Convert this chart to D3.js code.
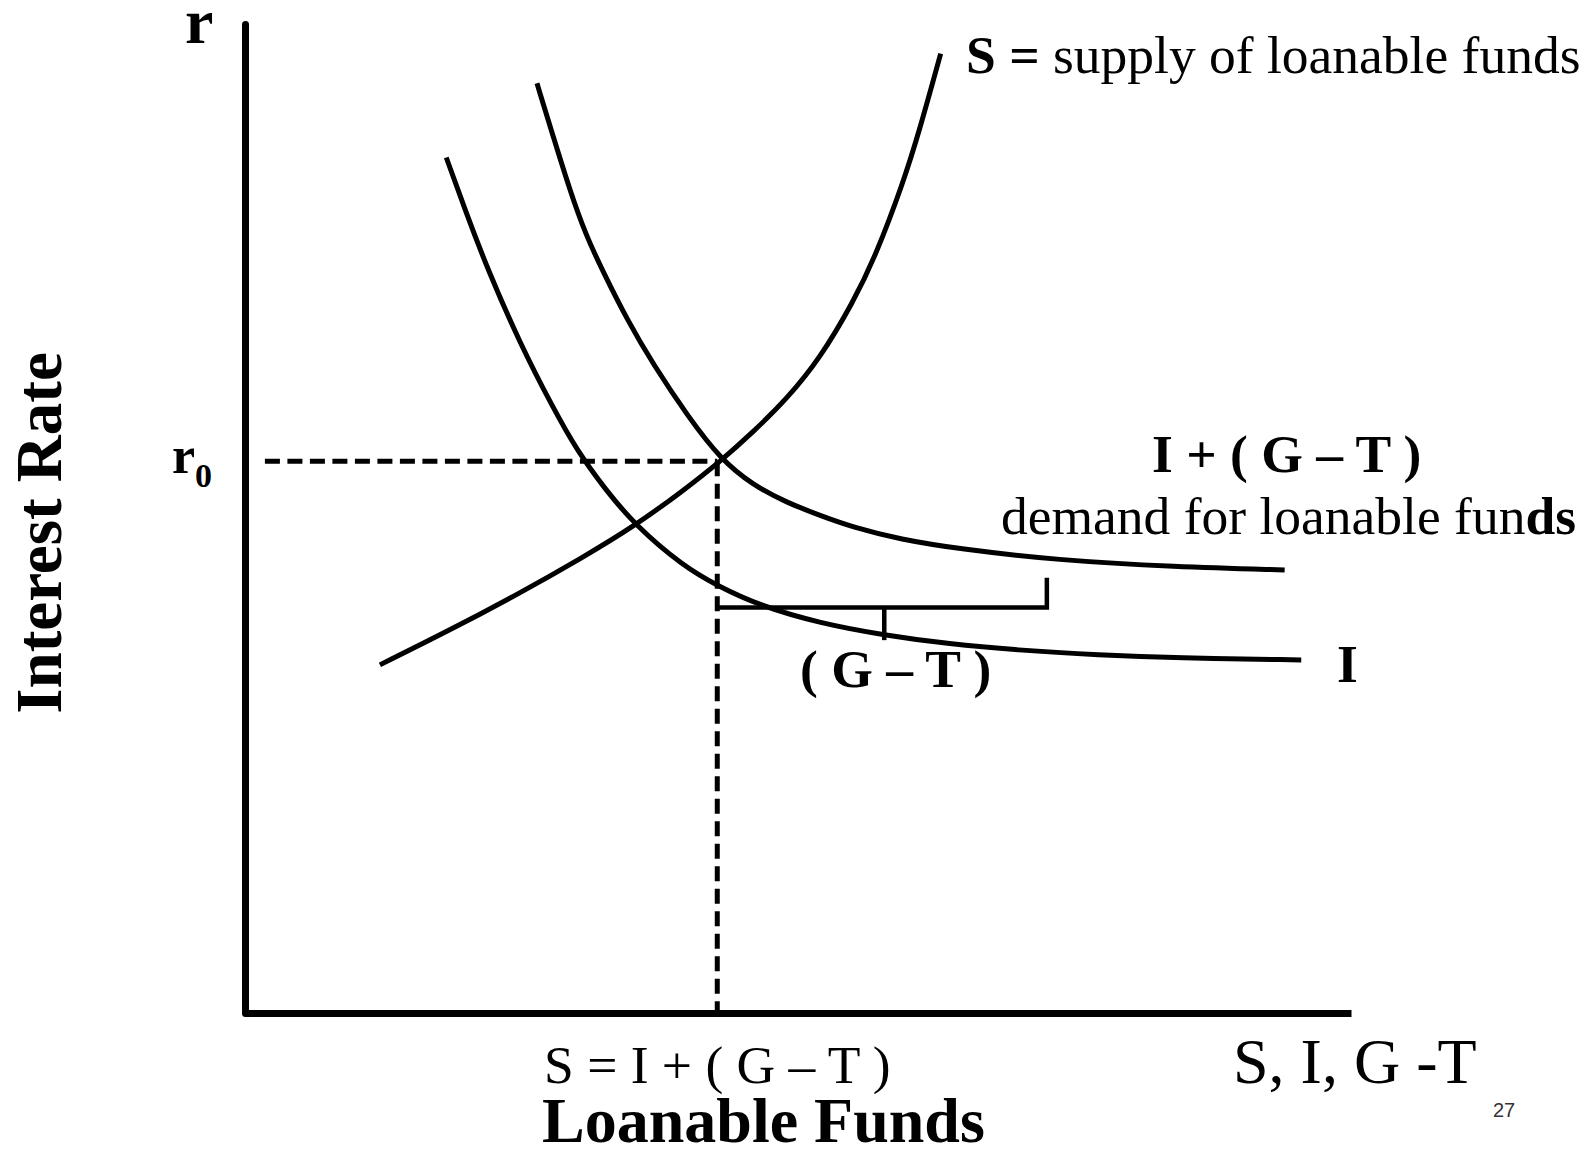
<!DOCTYPE html>
<html lang="en">

<head>
	<title>Loanable funds market</title>
	<meta charset="utf-8">
	<script src="https://d3js.org/d3.v7.min.js"></script>
	<style>
		body { margin: 0; background: #fff; }
		svg { display: block; }
		.serif { font-family: "Liberation Serif", "Times New Roman", serif; fill: #000; }
	</style>
</head>

<body>
	<div id="container1"></div>
	<script>
		// Data (x = loanable funds, y = interest rate, both 0-100)
		const supplyX = [12.2, 18.5, 24.6, 30.6, 35.3, 39.6, 43.0, 45.9, 49.0, 52.0, 55.0, 57.0, 59.5, 61.0, 62.9];
		const supplyY = [35.2, 38.7, 42.3, 46.1, 49.3, 52.8, 55.8, 58.7, 62.1, 66.2, 71.9, 76.5, 83.9, 89.3, 97.0];

		const investX = [18.2, 20.0, 21.9, 24.9, 27.9, 30.0, 32.6, 35.3, 39.6, 42.7, 46.5, 52.0, 57.8, 63.7, 69.7, 77.3, 84.1, 95.5];
		const investY = [86.5, 80.9, 75.3, 67.6, 61.1, 56.9, 52.9, 49.3, 45.2, 43.2, 41.2, 39.4, 38.2, 37.3, 36.7, 36.2, 35.9, 35.7];

		const demandX = [26.4, 27.9, 29.4, 30.8, 32.4, 34.6, 36.9, 40.0, 43.0, 45.9, 49.0, 52.0, 55.0, 59.2, 64.7, 73.3, 84.1, 94.0];
		const demandY = [94.0, 88.5, 83.1, 78.7, 74.9, 70.0, 65.6, 60.4, 56.0, 53.4, 51.6, 50.3, 49.1, 47.9, 46.9, 45.8, 45.1, 44.8];

		// Equilibrium and the (G - T) bracket
		const q0 = 42.7;
		const r0 = 55.8;
		const bracketY = 41.0;
		const bracketRight = 72.5;
		const bracketTop = 44.0;
		const bracketMid = 57.8;
		const bracketMidBottom = 37.7;

		// Create chart dimensions
		const width = 1589;
		const height = 1150;

		const svg = d3.select("#container1")
			.append("svg")
			.attr("width", width)
			.attr("height", height);

		// Create scales
		const x = d3.scaleLinear().domain([0, 100]).range([245, 1351]);
		const y = d3.scaleLinear().domain([0, 100]).range([1013, 24]);

		// Draw axes
		svg.append("g")
			.attr("transform", `translate(${x(0)},0)`)
			.call(d3.axisLeft(y).tickValues([]).tickSizeOuter(0))
			.select(".domain")
			.attr("stroke", "#000")
			.attr("stroke-width", 7)
			.attr("stroke-linecap", "round");

		svg.append("g")
			.attr("transform", `translate(0,${y(0)})`)
			.call(d3.axisBottom(x).tickValues([]).tickSizeOuter(0))
			.select(".domain")
			.attr("stroke", "#000")
			.attr("stroke-width", 7);

		// Dashed guides
		svg.append("line")
			.attr("x1", x(1.8)).attr("x2", x(q0))
			.attr("y1", y(r0)).attr("y2", y(r0))
			.attr("stroke", "#000").attr("stroke-width", 5)
			.attr("stroke-dasharray", "15,7.5");

		svg.append("line")
			.attr("x1", x(q0)).attr("x2", x(q0))
			.attr("y1", y(r0)).attr("y2", y(-0.7))
			.attr("stroke", "#000").attr("stroke-width", 5)
			.attr("stroke-dasharray", "15,7.5");

		// Draw curves (B-spline through the read points to keep them smooth)
		const line = d3.line()
			.x(d => x(d[0]))
			.y(d => y(d[1]))
			.curve(d3.curveBasis);

		const curves = [
			d3.zip(supplyX, supplyY),
			d3.zip(investX, investY),
			d3.zip(demandX, demandY)
		];

		svg.append("g")
			.selectAll("path")
			.data(curves)
			.enter().append("path")
			.attr("d", line)
			.attr("fill", "none")
			.attr("stroke", "#000")
			.attr("stroke-width", 5);

		// (G - T) bracket
		svg.append("path")
			.attr("d", `M${x(q0)},${y(bracketY)}H${x(bracketRight)}V${y(bracketTop)}`)
			.attr("fill", "none")
			.attr("stroke", "#000")
			.attr("stroke-width", 4.5);

		svg.append("line")
			.attr("x1", x(bracketMid)).attr("x2", x(bracketMid))
			.attr("y1", y(bracketY)).attr("y2", y(bracketMidBottom))
			.attr("stroke", "#000").attr("stroke-width", 4.5);

		// Add labels
		const label = (px, py, size, weight) => svg.append("text")
			.attr("class", "serif")
			.attr("x", px)
			.attr("y", py)
			.attr("font-size", size)
			.attr("font-weight", weight);

		label(185, 43, 64, "bold").text("r");

		const r0Label = label(172, y(r0) + 12, 52, "bold");
		r0Label.append("tspan").text("r");
		r0Label.append("tspan").attr("font-size", 34).attr("dy", 14).text("0");

		svg.append("text")
			.attr("class", "serif")
			.attr("transform", "translate(61,533) rotate(-90)")
			.attr("text-anchor", "middle")
			.attr("font-size", 65)
			.attr("font-weight", "bold")
			.text("Interest Rate");

		const sLabel = label(966, 73, 53.5, "normal");
		sLabel.append("tspan").attr("font-weight", "bold").text("S =");
		sLabel.append("tspan").text(" supply of loanable funds");

		label(1152, 472, 53.5, "bold").text("I + ( G \u2013 T )");

		const dLabel = label(1001, 534, 53.5, "normal");
		dLabel.append("tspan").text("demand for loanable fun");
		dLabel.append("tspan").attr("font-weight", "bold").text("ds");

		label(800, 687, 53.5, "bold").text("( G \u2013 T )");
		label(1337, 682, 53.5, "bold").text("I");

		label(544, 1083, 53.5, "normal").text("S = I + ( G \u2013 T )");
		label(1233, 1083, 64, "normal").text("S, I, G -T");
		label(542, 1142, 64, "bold").text("Loanable Funds");

		svg.append("text")
			.attr("x", 1493)
			.attr("y", 1117)
			.attr("font-family", "Liberation Sans, Arial, sans-serif")
			.attr("font-size", 20)
			.attr("fill", "#333")
			.text("27");
	</script>
</body>

</html>
